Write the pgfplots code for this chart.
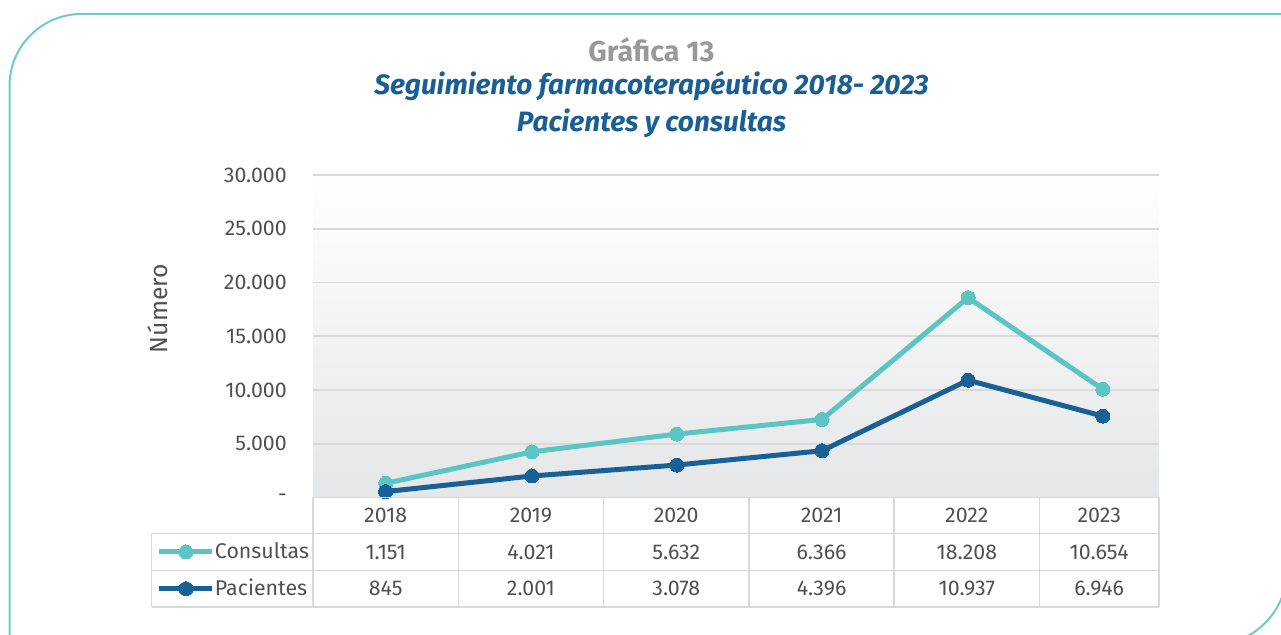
\documentclass[border=0pt]{standalone}
\usepackage{fontspec}
\setmainfont{Fira Sans}
\usepackage{pgfplots}
\pgfplotsset{compat=1.18}
\definecolor{consul}{RGB}{91,197,196}
\definecolor{pacie}{RGB}{23,97,150}
\definecolor{txtgray}{RGB}{80,80,80}
\definecolor{gridgray}{RGB}{217,217,217}
\definecolor{titgray}{RGB}{153,153,153}
\definecolor{titblue}{RGB}{26,94,150}
\definecolor{framecol}{RGB}{111,202,200}
\newcommand\tfont{\fontsize{16pt}{19pt}\selectfont}
\begin{document}
\begin{tikzpicture}[x=0.75pt,y=0.75pt]
\useasboundingbox (0,0) rectangle (1281,635);
\clip (0,0) rectangle (1281,635);
\draw[framecol, line width=1.5pt] (9.5,-20) -- (9.5,549) arc[start angle=180, end angle=90, radius=72] -- (1300,621);
\draw[framecol, line width=1.5pt] (1287,700) -- (1287,65) arc[start angle=0, end angle=-90, radius=75] -- (1100,-10);
% titles
\node[anchor=base, text=titgray, font=\fontsize{21.5pt}{25pt}\selectfont\bfseries] at (651.5,573.3) {Gráfica 13};
\node[anchor=base, text=titblue, font=\fontsize{21pt}{25pt}\selectfont\bfseries\itshape] at (651.5,540) {Seguimiento farmacoterapéutico 2018- 2023};
\node[anchor=base, text=titblue, font=\fontsize{21pt}{25pt}\selectfont\bfseries\itshape] at (651.5,503.3) {Pacientes y consultas};
\begin{axis}[
  at={(234.75pt,103.125pt)}, anchor=south west, scale only axis,
  width=634.5pt, height=241.875pt,
  xmin=0, xmax=5.822, ymin=0, ymax=30000,
  axis line style={draw=none}, tick style={draw=none},
  xtick=\empty,
  ytick={0,5000,10000,15000,20000,25000,30000},
  yticklabels={-,5.000,10.000,15.000,20.000,25.000,30.000},
  scaled y ticks=false,
  ymajorgrids, grid style={gridgray, line width=1.2pt},
  yticklabel style={anchor=east, inner sep=0pt, xshift=-19.5pt, font=\tfont, text=txtgray},
  ylabel={Número},
  every axis y label/.style={at={(axis description cs:-0.184,0.586)}, anchor=center, rotate=90, font=\fontsize{18.5pt}{22pt}\selectfont, text=txtgray},
  clip=false,
  axis background/.style={top color=white, bottom color={rgb,255:red,229;green,230;blue,231}},
  legend style={at={(axis description cs:-0.1844,-0.1116)}, anchor=north west, draw=none, fill=none,
     inner sep=0pt, outer sep=0pt, row sep=0pt, column sep=0pt, font=\tfont, text=txtgray,
     nodes={inner sep=0pt, text height=18.7pt, text depth=8.9pt}},
  legend cell align=left,
  legend image code/.code={\draw[mark repeat=2, mark phase=2, #1] plot coordinates {(0pt,0pt) (19.875pt,0pt) (39.75pt,0pt)};},
]
\addplot[consul, line width=3.75pt, line join=round, mark=*, mark size=5.25pt, mark options={solid, line width=0pt}]
  coordinates {(0.5,1320) (1.507,4250) (2.504,5900) (3.503,7260) (4.508,18590) (5.435,10070)};
\addlegendentry{Consultas}
\addplot[pacie, line width=3.75pt, line join=round, mark=*, mark size=5.25pt, mark options={solid, line width=0pt}]
  coordinates {(0.5,550) (1.507,2000) (2.504,3020) (3.503,4350) (4.508,10910) (5.435,7570)};
\addlegendentry{Pacientes}
\end{axis}
% data table
\begin{scope}[gridgray, line width=1.1pt]
\draw (313,137.5) -- (1159,137.5);
\draw (151.7,101.5) -- (1159,101.5);
\draw (151.7,64.5) -- (1159,64.5);
\draw (151.7,28) -- (1159,28);
\draw (151.7,101.5) -- (151.7,28);
\foreach \xx in {313,458.3,603.6,748.9,894.2,1039.5,1159} {\draw (\xx,137.5) -- (\xx,28);}
\end{scope}
\begin{scope}[every node/.style={text=txtgray, font=\tfont, anchor=center, inner sep=0pt}]
\foreach \xx/\yr/\c/\p in {385.65/2018/1.151/845, 530.95/2019/4.021/2.001, 676.25/2020/5.632/3.078, 821.55/2021/6.366/4.396, 966.85/2022/18.208/10.937, 1099.25/2023/10.654/6.946} {
  \node at (\xx,119.5) {\yr};
  \node at (\xx,83) {\c};
  \node at (\xx,46.25) {\p};
}
\end{scope}
\end{tikzpicture}
\end{document}
